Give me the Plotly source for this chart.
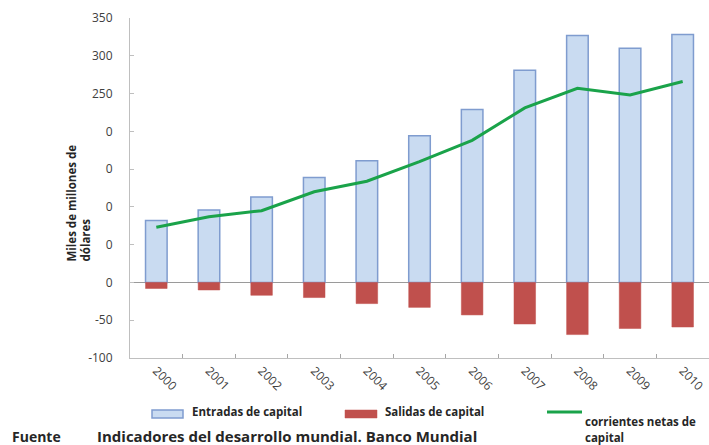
import plotly.graph_objects as go

# Flujos de capital (miles de millones de dólares)
years = ["2000", "2001", "2002", "2003", "2004", "2005", "2006", "2007", "2008", "2009", "2010"]
entradas = [82, 96, 113, 139, 161, 194, 229, 281, 327, 310, 328]
salidas = [-8, -10, -17, -20, -28, -33, -43, -55, -69, -61, -59]
netas = [73, 87, 95, 120, 134, 160, 188, 231, 257, 248, 266]

y_tickvals = [350, 300, 250, 200, 150, 100, 50, 0, -50, -100]
y_ticktext = ["350", "300", "250", "0", "0", "0", "0", "0", "-50", "-100"]

W, H = 709, 445
L, R, T, B = 130, 0, 18, 87
FONT = "Open Sans"
TXT = "#262626"
BLUE_FILL, BLUE_EDGE = "#c9dbf1", "#7f9ccf"
RED = "#c0504d"
GREEN = "#1aa34a"

def px(x):
    return (x - L) / (W - L - R)

def py(y):
    return (H - B - y) / (H - T - B)

fig = go.Figure()
fig.add_trace(go.Bar(
    x=years, y=entradas, name="Entradas de capital",
    marker=dict(color=BLUE_FILL, line=dict(color=BLUE_EDGE, width=1.5)),
    width=0.41,
))
fig.add_trace(go.Bar(
    x=years, y=salidas, name="Salidas de capital",
    marker=dict(color=RED, line=dict(color=RED, width=0.5)),
    width=0.41,
))
fig.add_trace(go.Scatter(
    x=years, y=netas, name="corrientes netas de capital",
    mode="lines", line=dict(color=GREEN, width=3),
))

fig.update_layout(
    width=W, height=H,
    margin=dict(l=L, r=R, t=T, b=B),
    paper_bgcolor="white", plot_bgcolor="white",
    barmode="overlay", showlegend=False,
    font=dict(family=FONT, color=TXT),
)
fig.update_xaxes(
    type="category", tickson="boundaries", ticks="inside", ticklen=4,
    tickcolor="#a6a6a6", showline=True, linecolor="#bfbfbf", linewidth=1,
    showgrid=False, tickangle=45, tickfont=dict(size=12, color="#404040"),
)
fig.update_yaxes(
    range=[-100, 350], tickvals=y_tickvals, ticktext=y_ticktext,
    ticks="inside", ticklen=4, tickcolor="#bfbfbf",
    showline=True, linecolor="#bfbfbf", linewidth=1,
    showgrid=False, zeroline=True, zerolinecolor="#9a9a9a", zerolinewidth=1,
    tickfont=dict(size=12, color="#404040"), ticklabelstandoff=14,
)

# eje Y: título en dos líneas, alineado abajo
for line, xc in (("Miles de millones de", 71), ("dólares", 85)):
    fig.add_annotation(
        text=f"<b>{line}</b>", textangle=-90,
        xref="paper", yref="paper", x=px(xc), y=py(263),
        xanchor="center", yanchor="bottom", showarrow=False,
        font=dict(size=11.5, color=TXT), borderpad=0,
    )

# leyenda
fig.add_shape(type="rect", xref="paper", yref="paper",
              x0=px(152), x1=px(183), y0=py(418), y1=py(410),
              fillcolor=BLUE_FILL, line=dict(color=BLUE_EDGE, width=1.5))
fig.add_annotation(text="<b>Entradas de capital</b>", xref="paper", yref="paper",
                   x=px(190), y=py(412), xanchor="left", yanchor="middle",
                   showarrow=False, font=dict(size=11.5, color=TXT))
fig.add_shape(type="rect", xref="paper", yref="paper",
              x0=px(345), x1=px(377), y0=py(418), y1=py(410),
              fillcolor=RED, line=dict(color=RED, width=0.5))
fig.add_annotation(text="<b>Salidas de capital</b>", xref="paper", yref="paper",
                   x=px(383), y=py(412), xanchor="left", yanchor="middle",
                   showarrow=False, font=dict(size=11.5, color=TXT))
fig.add_shape(type="line", xref="paper", yref="paper",
              x0=px(547), x1=px(582), y0=py(412), y1=py(412),
              line=dict(color=GREEN, width=3))
fig.add_annotation(text="<b>corrientes netas de</b>", xref="paper", yref="paper",
                   x=px(583), y=py(421), xanchor="left", yanchor="middle",
                   showarrow=False, font=dict(size=11.5, color=TXT))
fig.add_annotation(text="<b>capital</b>", xref="paper", yref="paper",
                   x=px(583), y=py(437), xanchor="left", yanchor="middle",
                   showarrow=False, font=dict(size=11.5, color=TXT))

# fuente
fig.add_annotation(text="<b>Fuente</b>", xref="paper", yref="paper",
                   x=px(10), y=py(436), xanchor="left", yanchor="middle",
                   showarrow=False, font=dict(size=14, color=TXT))
fig.add_annotation(text="<b>Indicadores del desarrollo mundial. Banco Mundial</b>",
                   xref="paper", yref="paper",
                   x=px(95), y=py(436), xanchor="left", yanchor="middle",
                   showarrow=False, font=dict(size=15, color=TXT))

fig.write_html("out.html")
